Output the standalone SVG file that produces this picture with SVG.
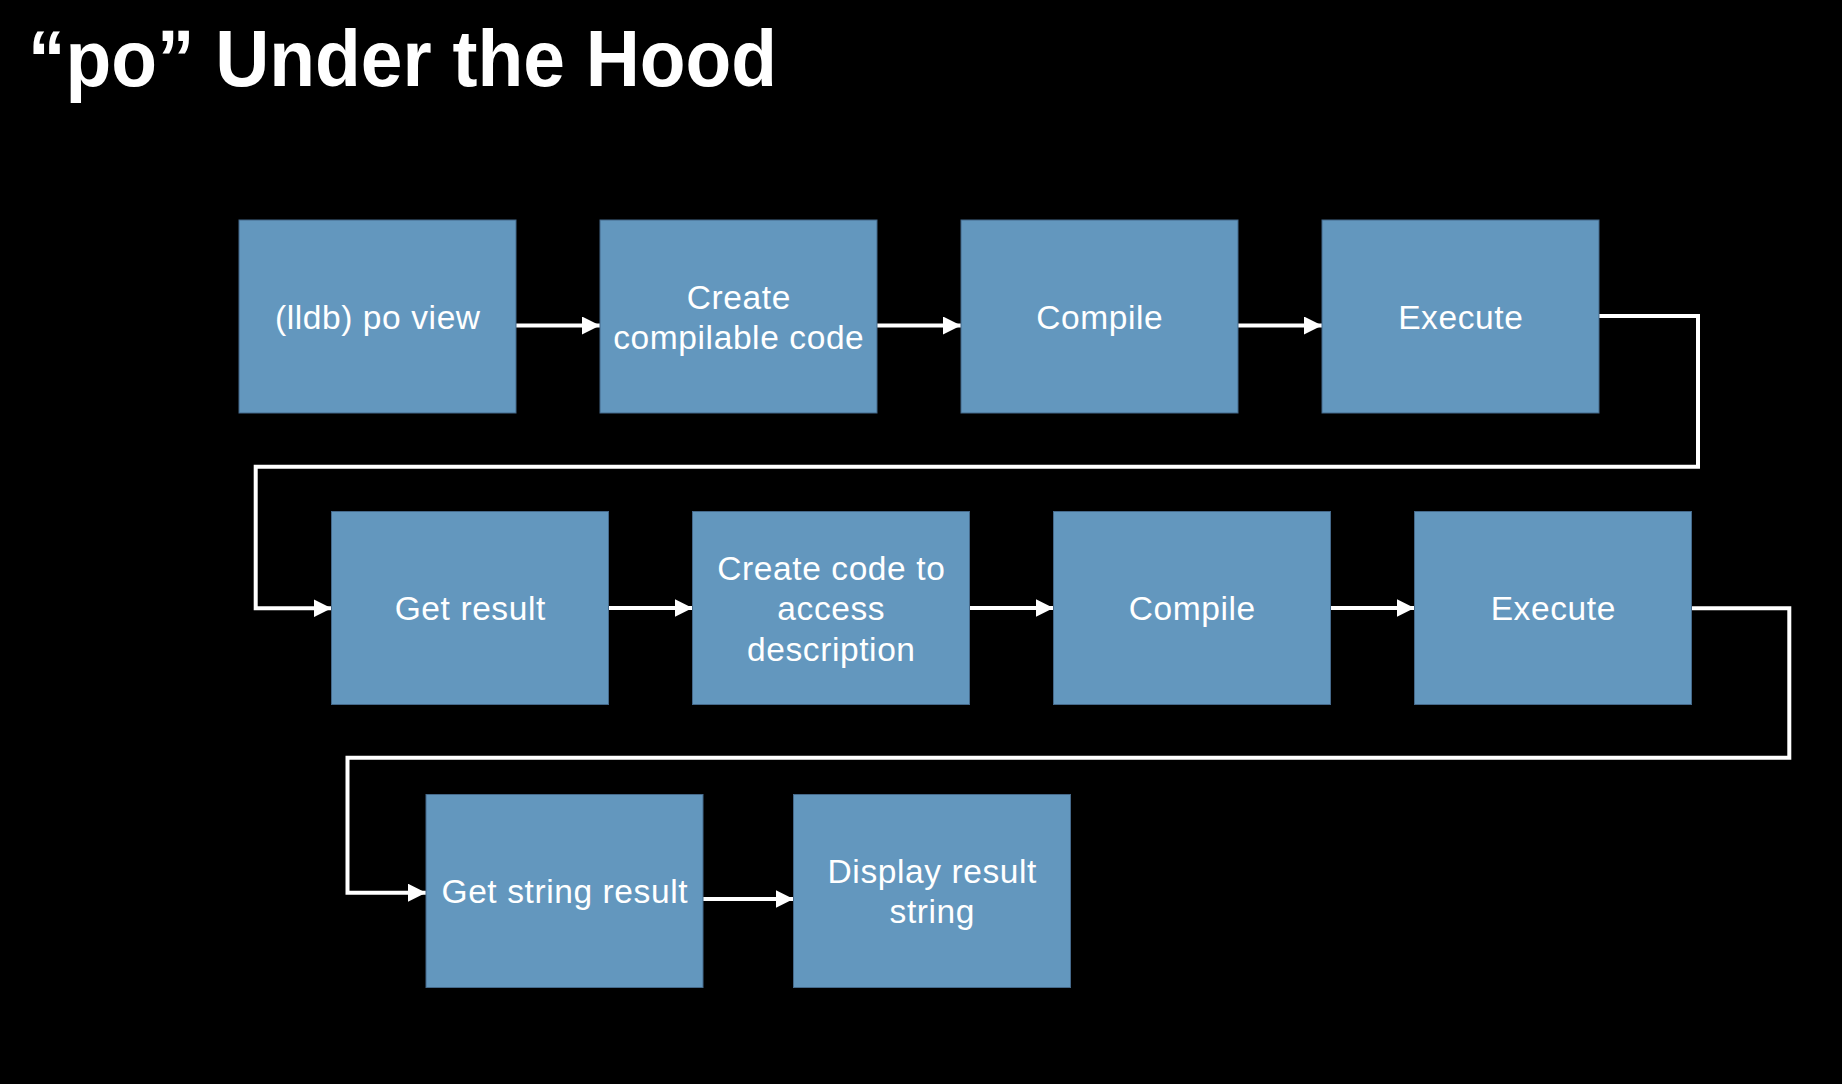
<svg xmlns="http://www.w3.org/2000/svg" width="1842" height="1084" viewBox="0 0 1842 1084">
<style>
.box{fill:#6397BE;stroke:#45698A;stroke-width:1}
.lbl{font-family:"Liberation Sans",Arial,sans-serif;font-size:33.5px;letter-spacing:0.6px;fill:#FFFFFF;text-anchor:middle}
.title{font-family:"Liberation Sans",Arial,sans-serif;font-weight:bold;font-size:80px;fill:#FFFFFF}
.conn{fill:none;stroke:#FFFFFF;stroke-width:4;stroke-linejoin:miter}
</style>
<defs>
<marker id="arrow" markerUnits="userSpaceOnUse" markerWidth="18" markerHeight="18" refX="18" refY="9" orient="auto">
<path d="M0,0 L18,9 L0,18 Z" fill="#FFFFFF"/>
</marker>
</defs>
<rect x="0" y="0" width="1842" height="1084" fill="#000000"/>
<text class="title" x="28" y="86" textLength="749" lengthAdjust="spacingAndGlyphs">&#8220;po&#8221; Under the Hood</text>

<g id="connectors">
<path class="conn" d="M515,325.5 H600" marker-end="url(#arrow)"/>
<path class="conn" d="M876,325.5 H961" marker-end="url(#arrow)"/>
<path class="conn" d="M1237,325.5 H1322" marker-end="url(#arrow)"/>
<path class="conn" d="M1599,316 H1698 V466.7 H255.7 V608.3 H331.5" marker-end="url(#arrow)"/>
<path class="conn" d="M608.5,608 H692.5" marker-end="url(#arrow)"/>
<path class="conn" d="M969.5,608 H1053.5" marker-end="url(#arrow)"/>
<path class="conn" d="M1330.5,608 H1414.5" marker-end="url(#arrow)"/>
<path class="conn" d="M1691.5,608.3 H1789.3 V757.7 H347.5 V892.7 H426" marker-end="url(#arrow)"/>
<path class="conn" d="M702.5,899 H793.5" marker-end="url(#arrow)"/>
</g>

<g id="n1"><rect class="box" x="239" y="220" width="277" height="193"/><text class="lbl" x="377.8" y="329">(lldb) po view</text></g>
<g id="n2"><rect class="box" x="600" y="220" width="277" height="193"/><text class="lbl" x="738.8" y="308.5">Create</text><text class="lbl" x="738.8" y="348.5">compilable code</text></g>
<g id="n3"><rect class="box" x="961" y="220" width="277" height="193"/><text class="lbl" x="1099.8" y="329">Compile</text></g>
<g id="n4"><rect class="box" x="1322" y="220" width="277" height="193"/><text class="lbl" x="1460.8" y="329">Execute</text></g>

<g id="n5"><rect class="box" x="331.5" y="511.5" width="277" height="193"/><text class="lbl" x="470.3" y="620">Get result</text></g>
<g id="n6"><rect class="box" x="692.5" y="511.5" width="277" height="193"/><text class="lbl" x="831.3" y="579.5">Create code to</text><text class="lbl" x="831.3" y="620">access</text><text class="lbl" x="831.3" y="660.5">description</text></g>
<g id="n7"><rect class="box" x="1053.5" y="511.5" width="277" height="193"/><text class="lbl" x="1192.3" y="620">Compile</text></g>
<g id="n8"><rect class="box" x="1414.5" y="511.5" width="277" height="193"/><text class="lbl" x="1553.3" y="620">Execute</text></g>

<g id="n9"><rect class="box" x="426" y="794.5" width="277" height="193"/><text class="lbl" x="564.8" y="903">Get string result</text></g>
<g id="n10"><rect class="box" x="793.5" y="794.5" width="277" height="193"/><text class="lbl" x="932.3" y="882.5">Display result</text><text class="lbl" x="932.3" y="923">string</text></g>
</svg>
